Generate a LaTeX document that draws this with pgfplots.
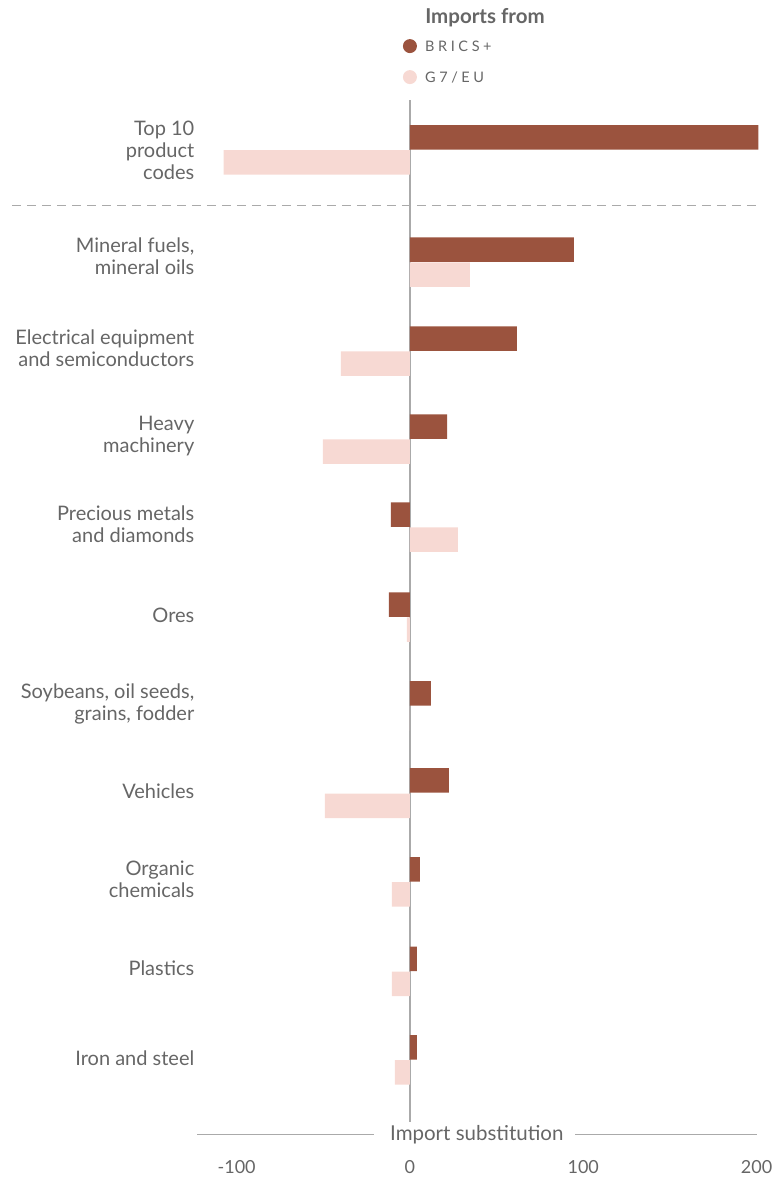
\documentclass[border=0pt]{standalone}
\usepackage{pgfplots}
\pgfplotsset{compat=1.18}
\usepackage{fontspec}
\setmainfont{Lato}
\definecolor{brics}{HTML}{9B533E}
\definecolor{gseven}{HTML}{F7D9D3}
\definecolor{txt}{HTML}{666666}
\definecolor{ln}{HTML}{AAAAAA}
\begin{document}
\begin{tikzpicture}
\begin{axis}[
  scale only axis, width=774pt, height=1178pt,
  xmin=-236.54, xmax=210.0, ymin=0, ymax=1178, y dir=reverse,
  axis line style={draw=none}, ytick=\empty,
  xtick={-100,0,100,200}, major tick length=0pt,
  xticklabel style={yshift=21pt, text=txt, font=\fontsize{18}{20}\selectfont},
  /pgf/number format/assume math mode=true,
  clip=false,
  xbar, bar width=24.5, bar shift=0pt,
]
% zero line and separators
\draw[ln, line width=1.5pt] (axis cs:0,100) -- (axis cs:0,1122);
\draw[ln, line width=1pt, dash pattern=on 9pt off 6pt] (axis cs:-229.6,205) -- (axis cs:202,205);
\draw[ln, line width=1pt] (axis cs:-122.7,1135) -- (axis cs:-20.8,1135);
\draw[ln, line width=1pt] (axis cs:95.5,1135) -- (axis cs:200.5,1135);
\node[text=txt, font=\fontsize{20.5}{22}\selectfont] at (axis cs:38.6,1135) {Import substitution};

\addplot[fill=brics, draw=none] coordinates {
(201,137.3) (94.6,249.5) (61.7,338.5) (21.4,426.5) (-11,514.5) (-12.1,604.5)
(12.1,693.5) (22.5,780.5) (5.8,869.5) (4,959) (4,1047.5)};
\addplot[fill=gseven, draw=none] coordinates {
(-107.5,162.3) (34.6,274.5) (-39.9,363.5) (-50.3,451.5) (27.7,539.5) (-1.7,629.5)
(0,718.5) (-49.1,806) (-10.4,894.5) (-10.4,984) (-8.7,1072.5)};

% category labels
\tikzset{cat/.style={anchor=east, align=right, inner sep=0pt, text=txt, font=\fontsize{20}{22}\selectfont}}
\node[cat] at (axis cs:-124.3,150) {Top 10\\product\\codes};
\node[cat] at (axis cs:-124.3,256) {Mineral fuels,\\mineral oils};
\node[cat] at (axis cs:-124.3,348) {Electrical equipment\\and semiconductors};
\node[cat] at (axis cs:-124.3,436) {Heavy\\machinery};
\node[cat] at (axis cs:-124.3,524) {Precious metals\\and diamonds};
\node[cat] at (axis cs:-124.3,615) {Ores};
\node[cat] at (axis cs:-124.3,704) {Soybeans, oil seeds,\\grains, fodder};
\node[cat] at (axis cs:-124.3,791) {Vehicles};
\node[cat] at (axis cs:-124.3,879) {Organic\\chemicals};
\node[cat] at (axis cs:-124.3,968) {Plastics};
\node[cat] at (axis cs:-124.3,1058) {Iron and steel};

% legend
\node[text=txt, font=\fontsize{20.5}{22}\selectfont\bfseries] at (axis cs:43.3,18) {Imports from};
\fill[brics] (axis cs:0,46) circle[radius=7pt];
\fill[gseven] (axis cs:0,77) circle[radius=7pt];
\node[anchor=west, inner sep=0pt, text=txt, font=\fontsize{14.5}{16}\selectfont\addfontfeatures{LetterSpace=25}] at (axis cs:8.6,46) {BRICS+};
\node[anchor=west, inner sep=0pt, text=txt, font=\fontsize{14.5}{16}\selectfont\addfontfeatures{LetterSpace=25}] at (axis cs:8.6,77) {G7/EU};
\end{axis}
\end{tikzpicture}
\end{document}
